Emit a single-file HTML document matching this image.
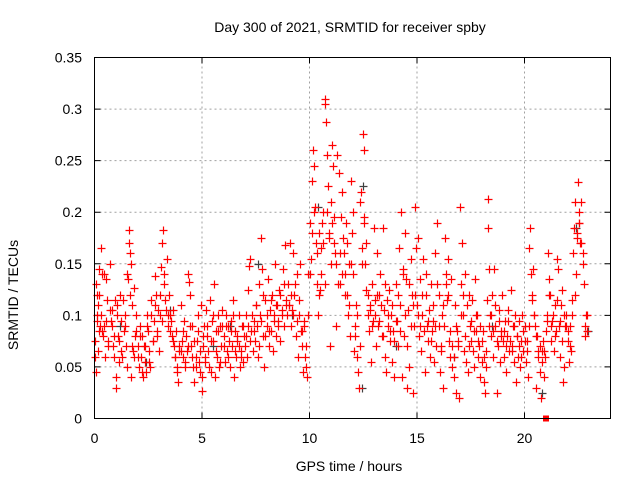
<!DOCTYPE html>
<html><head><meta charset="utf-8"><style>
html,body{margin:0;padding:0;background:#fff}
svg{display:block;font-family:"Liberation Sans",sans-serif}
</style></head><body>
<svg id="chart" width="640" height="480" viewBox="0 0 640 480">
<rect x="0" y="0" width="640" height="480" fill="#fff"/>
<text x="350" y="32" text-anchor="middle" font-size="14" fill="#000">Day 300 of 2021, SRMTID for receiver spby</text>
<text x="349" y="471" text-anchor="middle" font-size="14" fill="#000">GPS time / hours</text>
<text transform="translate(18,295) rotate(-90)" text-anchor="middle" font-size="14" fill="#000">SRMTID / TECUs</text>
<g id="grid"></g>
<g id="ticks"></g>
<g id="gray"></g>
<g id="red"></g>
<rect x="94.5" y="57.5" width="516" height="361" fill="none" stroke="#000" stroke-width="1"/>
</svg>
<script>
const xTicks = [0, 5, 10, 15, 20];
const yTicks = [0, 0.05, 0.1, 0.15, 0.2, 0.25, 0.3, 0.35];
const yTickLabels = ["0", "0.05", "0.1", "0.15", "0.2", "0.25", "0.3", "0.35"];
const redTimes = [0.02,0.05,0.08,0.1,0.12,0.15,0.18,0.2,0.22,0.25,0.3,0.32,0.35,0.4,0.45,0.5,0.55,0.6,0.65,0.7,0.75,0.8,0.85,0.9,0.95,
1.0,1.02,1.05,1.1,1.15,1.2,1.25,1.3,1.35,1.4,1.45,1.5,1.55,1.6,1.62,1.65,1.7,1.72,1.75,1.8,1.85,1.9,1.95,
2.0,2.05,2.1,2.15,2.2,2.25,2.3,2.35,2.4,2.45,2.5,2.55,2.6,2.65,2.7,2.75,2.8,2.85,2.9,2.95,
3.0,3.05,3.1,3.15,3.2,3.25,3.3,3.35,3.4,3.45,3.5,3.55,3.6,3.65,3.7,3.75,3.8,3.85,3.9,3.95,
4.0,4.05,4.1,4.15,4.2,4.25,4.3,4.35,4.4,4.45,4.5,4.55,4.6,4.65,4.7,4.75,4.8,4.85,4.9,4.95,
5.0,5.02,5.05,5.1,5.15,5.2,5.25,5.3,5.35,5.4,5.45,5.5,5.55,5.6,5.65,5.7,5.75,5.8,5.85,5.9,5.95,
6.0,6.05,6.1,6.15,6.2,6.25,6.3,6.35,6.4,6.45,6.5,6.55,6.6,6.65,6.7,6.75,6.8,6.85,6.9,6.95,
7.0,7.05,7.1,7.15,7.2,7.25,7.3,7.35,7.4,7.45,7.5,7.55,7.6,7.65,7.7,7.75,7.8,7.85,7.9,7.95,
8.0,8.05,8.1,8.15,8.2,8.25,8.3,8.35,8.4,8.45,8.5,8.55,8.6,8.65,8.7,8.75,8.8,8.85,8.9,8.95,
9.0,9.05,9.1,9.15,9.2,9.25,9.3,9.35,9.4,9.45,9.5,9.55,9.6,9.65,9.7,9.75,9.8,9.85,9.9,9.95,
10.0,10.05,10.1,10.15,10.2,10.25,10.3,10.35,10.4,10.45,10.5,10.55,10.6,10.65,10.7,10.72,10.75,10.8,10.85,10.9,10.95,10.98,
11.0,11.05,11.1,11.15,11.2,11.25,11.3,11.35,11.4,11.45,11.5,11.55,11.6,11.65,11.7,11.75,11.8,11.85,11.9,11.95,11.98,
12.0,12.05,12.1,12.15,12.2,12.25,12.3,12.35,12.4,12.45,12.5,12.52,12.55,12.6,12.65,12.7,12.75,12.8,12.85,12.9,12.95,
13.0,13.05,13.1,13.15,13.2,13.25,13.3,13.35,13.4,13.45,13.5,13.55,13.6,13.65,13.7,13.75,13.8,13.85,13.9,13.95,
14.0,14.05,14.1,14.15,14.2,14.25,14.3,14.35,14.4,14.45,14.5,14.55,14.6,14.65,14.7,14.75,14.8,14.85,14.9,14.95,
15.0,15.05,15.1,15.15,15.2,15.25,15.3,15.35,15.4,15.45,15.5,15.55,15.6,15.65,15.7,15.75,15.8,15.85,15.9,15.95,
16.0,16.05,16.1,16.15,16.2,16.25,16.3,16.35,16.4,16.45,16.5,16.55,16.6,16.65,16.7,16.75,16.8,16.85,16.9,16.95,
17.0,17.05,17.1,17.15,17.2,17.25,17.3,17.35,17.4,17.45,17.5,17.55,17.6,17.65,17.7,17.75,17.8,17.85,17.9,17.95,
18.0,18.05,18.1,18.15,18.2,18.25,18.3,18.32,18.35,18.4,18.45,18.5,18.55,18.6,18.65,18.7,18.75,18.8,18.85,18.9,18.95,
19.0,19.05,19.1,19.15,19.2,19.25,19.3,19.35,19.4,19.45,19.5,19.55,19.6,19.65,19.7,19.75,19.8,19.85,19.9,19.95,
20.0,20.05,20.1,20.15,20.2,20.25,20.3,20.35,20.4,20.45,20.5,20.55,20.6,20.65,20.7,20.75,20.8,20.85,20.9,20.95,
21.0,21.05,21.1,21.15,21.2,21.25,21.3,21.35,21.4,21.45,21.5,21.55,21.6,21.65,21.7,21.75,21.8,21.85,21.9,21.95,
22.0,22.05,22.1,22.15,22.2,22.25,22.3,22.35,22.4,22.45,22.5,22.52,22.55,22.6,22.65,22.7,22.75,22.8,22.85,22.9];
const redValues = [0.075,0.045,0.13,0.095,0.12,0.065,0.11,0.085,0.145,0.09,0.165,0.1,0.14,0.08,0.09,0.06,0.135,0.115,0.075,0.15,0.095,0.105,0.07,0.06,0.115,
0.03,0.04,0.11,0.08,0.055,0.12,0.095,0.06,0.085,0.1,0.07,0.14,0.135,0.183,0.17,0.16,0.15,0.04,0.11,0.065,0.127,0.08,0.1,
0.07,0.05,0.09,0.06,0.08,0.04,0.07,0.055,0.045,0.1,0.085,0.065,0.05,0.115,0.075,0.095,0.138,0.12,0.08,0.105,
0.065,0.1,0.147,0.17,0.183,0.13,0.115,0.155,0.09,0.12,0.1,0.095,0.08,0.105,0.07,0.06,0.085,0.045,0.035,0.065,
0.11,0.075,0.06,0.095,0.05,0.08,0.065,0.14,0.132,0.12,0.07,0.09,0.05,0.035,0.06,0.075,0.1,0.055,0.045,0.11,
0.04,0.027,0.07,0.09,0.055,0.105,0.08,0.065,0.115,0.045,0.095,0.075,0.13,0.04,0.085,0.06,0.1,0.05,0.09,0.07,0.105,
0.08,0.055,0.1,0.065,0.09,0.075,0.05,0.095,0.07,0.115,0.04,0.085,0.06,0.075,0.1,0.05,0.065,0.09,0.055,0.08,
0.07,0.1,0.06,0.125,0.148,0.155,0.085,0.065,0.095,0.075,0.11,0.09,0.06,0.13,0.1,0.175,0.145,0.08,0.05,0.115,
0.09,0.135,0.07,0.105,0.085,0.12,0.065,0.1,0.15,0.08,0.11,0.095,0.125,0.075,0.105,0.145,0.09,0.168,0.115,0.1,
0.13,0.11,0.17,0.09,0.105,0.16,0.12,0.08,0.14,0.06,0.1,0.15,0.085,0.07,0.045,0.095,0.06,0.05,0.04,0.14,
0.19,0.155,0.23,0.26,0.245,0.205,0.17,0.13,0.1,0.18,0.125,0.165,0.19,0.2,0.305,0.31,0.287,0.255,0.225,0.175,0.07,0.15,
0.21,0.265,0.245,0.195,0.16,0.09,0.255,0.238,0.13,0.195,0.22,0.175,0.16,0.14,0.19,0.12,0.1,0.15,0.08,0.23,0.18,
0.2,0.065,0.09,0.11,0.06,0.045,0.03,0.21,0.22,0.165,0.276,0.26,0.195,0.15,0.125,0.1,0.085,0.11,0.055,0.13,0.095,
0.185,0.115,0.07,0.16,0.09,0.12,0.14,0.08,0.185,0.105,0.06,0.045,0.115,0.09,0.125,0.075,0.1,0.055,0.085,0.04,
0.13,0.095,0.07,0.165,0.11,0.2,0.04,0.145,0.08,0.18,0.135,0.03,0.105,0.05,0.155,0.12,0.025,0.09,0.205,0.165,
0.11,0.175,0.08,0.135,0.065,0.1,0.155,0.045,0.12,0.09,0.075,0.105,0.06,0.13,0.085,0.095,0.055,0.16,0.07,0.19,
0.12,0.045,0.065,0.1,0.03,0.09,0.175,0.14,0.115,0.155,0.075,0.06,0.135,0.05,0.04,0.11,0.025,0.085,0.07,0.02,
0.205,0.13,0.17,0.1,0.065,0.14,0.055,0.045,0.12,0.09,0.075,0.115,0.065,0.05,0.135,0.085,0.1,0.06,0.07,0.04,
0.055,0.085,0.035,0.025,0.065,0.115,0.185,0.213,0.145,0.1,0.08,0.12,0.06,0.145,0.09,0.025,0.07,0.105,0.055,0.085,0.12,
0.075,0.06,0.095,0.045,0.08,0.105,0.065,0.125,0.07,0.09,0.055,0.1,0.035,0.08,0.06,0.095,0.05,0.075,0.1,0.065,
0.09,0.055,0.075,0.04,0.165,0.185,0.14,0.115,0.145,0.1,0.09,0.03,0.08,0.06,0.045,0.02,0.065,0.075,0.04,0.06,
0.085,0.1,0.16,0.135,0.12,0.075,0.095,0.065,0.11,0.085,0.155,0.145,0.09,0.06,0.11,0.125,0.035,0.05,0.09,0.1,
0.075,0.055,0.09,0.065,0.115,0.16,0.185,0.21,0.14,0.175,0.229,0.19,0.2,0.17,0.21,0.15,0.13,0.08,0.1,0.085];
const redTimes2 = [0.03,0.13,0.23,0.33,0.43,0.53,0.63,0.73,0.83,0.93,
1.03,1.13,1.23,1.33,1.43,1.53,1.63,1.73,1.83,1.93,
2.03,2.13,2.23,2.33,2.43,2.53,2.63,2.73,2.83,2.93,
3.03,3.13,3.23,3.33,3.43,3.53,3.63,3.73,3.83,3.93,
4.03,4.13,4.23,4.33,4.43,4.53,4.63,4.73,4.83,4.93,
5.03,5.13,5.23,5.33,5.43,5.53,5.63,5.73,5.83,5.93,
6.03,6.13,6.23,6.33,6.43,6.53,6.63,6.73,6.83,6.93,
7.03,7.13,7.23,7.33,7.43,7.53,7.63,7.73,7.83,7.93,
8.03,8.13,8.23,8.33,8.43,8.53,8.63,8.73,8.83,8.93,
9.03,9.13,9.23,9.33,9.43,9.53,9.63,9.73,9.83,9.93,
10.03,10.13,10.23,10.33,10.43,10.53,10.63,10.73,10.83,10.93,
11.03,11.13,11.23,11.33,11.43,11.53,11.63,11.73,11.83,11.93,
12.03,12.13,12.23,12.33,12.43,12.53,12.63,12.73,12.83,12.93,
13.03,13.13,13.23,13.33,13.43,13.53,13.63,13.73,13.83,13.93,
14.03,14.13,14.23,14.33,14.43,14.53,14.63,14.73,14.83,14.93,
15.03,15.13,15.23,15.33,15.43,15.53,15.63,15.73,15.83,15.93,
16.03,16.13,16.23,16.33,16.43,16.53,16.63,16.73,16.83,16.93,
17.03,17.13,17.23,17.33,17.43,17.53,17.63,17.73,17.83,17.93,
18.03,18.13,18.23,18.33,18.43,18.53,18.63,18.73,18.83,18.93,
19.03,19.13,19.23,19.33,19.43,19.53,19.63,19.73,19.83,19.93,
20.03,20.13,20.23,20.33,20.43,20.53,20.63,20.73,20.83,20.93,
21.03,21.13,21.23,21.33,21.43,21.53,21.63,21.73,21.83,21.93,
22.03,22.13,22.23,22.33,22.43,22.53,22.63,22.73,22.83,22.93];
const redValues2 = [0.06,0.1,0.12,0.085,0.14,0.095,0.07,0.105,0.09,0.08,
0.1,0.075,0.065,0.115,0.09,0.05,0.12,0.07,0.06,0.085,
0.06,0.08,0.045,0.07,0.09,0.055,0.1,0.075,0.11,0.085,
0.12,0.095,0.14,0.105,0.1,0.085,0.075,0.06,0.05,0.07,
0.065,0.085,0.055,0.07,0.09,0.06,0.075,0.05,0.085,0.065,
0.08,0.06,0.09,0.05,0.075,0.1,0.065,0.085,0.055,0.09,
0.07,0.09,0.06,0.085,0.1,0.065,0.08,0.07,0.06,0.09,
0.08,0.09,0.075,0.1,0.085,0.11,0.07,0.095,0.12,0.08,
0.1,0.085,0.115,0.095,0.11,0.09,0.12,0.1,0.13,0.11,
0.11,0.12,0.1,0.13,0.095,0.115,0.085,0.09,0.07,0.1,
0.14,0.18,0.2,0.16,0.12,0.14,0.17,0.13,0.2,0.18,
0.19,0.17,0.15,0.13,0.16,0.14,0.12,0.17,0.11,0.15,
0.14,0.08,0.1,0.07,0.15,0.19,0.17,0.12,0.105,0.09,
0.1,0.12,0.095,0.11,0.08,0.13,0.1,0.085,0.11,0.075,
0.095,0.12,0.085,0.14,0.1,0.07,0.13,0.09,0.11,0.12,
0.1,0.09,0.12,0.085,0.14,0.095,0.075,0.11,0.09,0.13,
0.09,0.07,0.11,0.13,0.12,0.085,0.07,0.06,0.09,0.075,
0.1,0.12,0.08,0.11,0.07,0.095,0.085,0.1,0.075,0.09,
0.075,0.06,0.05,0.09,0.1,0.085,0.11,0.075,0.095,0.08,
0.085,0.07,0.095,0.075,0.065,0.09,0.08,0.07,0.06,0.085,
0.075,0.065,0.09,0.12,0.1,0.08,0.065,0.07,0.055,0.065,
0.095,0.12,0.09,0.1,0.08,0.115,0.095,0.075,0.1,0.09,
0.085,0.07,0.1,0.12,0.18,0.19,0.17,0.16,0.09,0.1];
const grayTimes = [1.2,2.4,3.5,5.5,6.3,7.6,9.2,10.4,12.45,12.5,14.0,16.7,18.5,20.8,22.4,22.95];
const grayValues = [0.09,0.055,0.105,0.07,0.09,0.15,0.1,0.205,0.03,0.225,0.07,0.06,0.09,0.025,0.185,0.085];
const markerTimes = [21.0];
const markerValues = [0.0];

const X0 = 94.5, X1 = 610.5, Y0 = 418.5, Y1 = 57.5;
const xMax = 24, yMax = 0.35;
function xs(t){ return X0 + (t / xMax) * (X1 - X0); }
function ys(v){ return Y0 - (v / yMax) * (Y0 - Y1); }
const NS = "http://www.w3.org/2000/svg";
const grid = document.getElementById('grid');
const ticks = document.getElementById('ticks');

xTicks.forEach(function(t){
  const x = xs(t);
  if (t > 0) {
    const g = document.createElementNS(NS,'line');
    
    
    g.setAttribute('x1',x); g.setAttribute('x2',x); g.setAttribute('y1',Y0); g.setAttribute('y2',Y1);
    g.setAttribute('stroke','#a0a0a0'); g.setAttribute('stroke-dasharray','2,3');
    grid.appendChild(g);
  }
  const tk = document.createElementNS(NS,'path');
  
  
  tk.setAttribute('d','M'+x+' '+Y0+'v-6M'+x+' '+Y1+'v6');
  tk.setAttribute('stroke','#000');
  ticks.appendChild(tk);
  const lb = document.createElementNS(NS,'text');
  
  
  lb.setAttribute('x',x); lb.setAttribute('y',443);
  lb.setAttribute('text-anchor','middle'); lb.setAttribute('font-size','14');
  lb.textContent = String(t);
  ticks.appendChild(lb);
});
yTicks.forEach(function(v,i){
  const y = ys(v);
  if (v > 0 && v < yMax) {
    const g = document.createElementNS(NS,'line');
    
    
    g.setAttribute('x1',X0); g.setAttribute('x2',X1); g.setAttribute('y1',y); g.setAttribute('y2',y);
    g.setAttribute('stroke','#a0a0a0'); g.setAttribute('stroke-dasharray','2,3');
    grid.appendChild(g);
  }
  const tk = document.createElementNS(NS,'path');
  
  
  tk.setAttribute('d','M'+X0+' '+y+'h6M'+X1+' '+y+'h-6');
  tk.setAttribute('stroke','#000');
  ticks.appendChild(tk);
  const lb = document.createElementNS(NS,'text');
  
  
  lb.setAttribute('x',82); lb.setAttribute('y',y+5);
  lb.setAttribute('text-anchor','end'); lb.setAttribute('font-size','14');
  lb.textContent = yTickLabels[i];
  ticks.appendChild(lb);
});

function drawCrosses(group, times, values, color, name){
  let d = '';
  for (let i = 0; i < times.length; i++) {
    const x = Math.round(xs(times[i])) + 0.5, y = Math.round(ys(values[i])) + 0.5;
    d += 'M'+(x-4)+' '+y+'h8M'+x+' '+(y-4)+'v8';
  }
  const p = document.createElementNS(NS,'path');
  
  
  p.setAttribute('d', d);
  p.setAttribute('stroke', color);
  p.setAttribute('stroke-width', '1.2');
  p.setAttribute('fill', 'none');
  group.appendChild(p);
}
drawCrosses(document.getElementById('gray'), grayTimes, grayValues, '#404040', 'gray-points');
drawCrosses(document.getElementById('red'), redTimes, redValues, '#ff0000', 'red-points');
drawCrosses(document.getElementById('red'), redTimes2, redValues2, '#ff0000', 'red-points-dense');

markerTimes.forEach(function(t,i){
  const r = document.createElementNS(NS,'rect');
  
  
  r.setAttribute('x', xs(t)-3); r.setAttribute('y', ys(markerValues[i])-3);
  r.setAttribute('width', 6); r.setAttribute('height', 6);
  r.setAttribute('fill', '#ff0000');
  document.getElementById('red').appendChild(r);
});
</script>
</body></html>
